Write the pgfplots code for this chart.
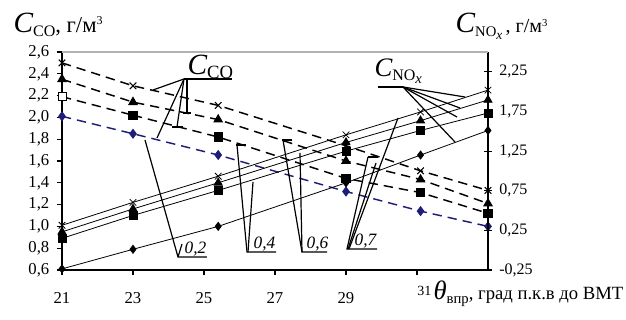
\documentclass[border=0pt]{standalone}
\usepackage{pgfplots}
\pgfplotsset{compat=1.18}
\usepackage{fontspec}
\setmainfont{Liberation Serif}
\definecolor{navy}{RGB}{30,30,120}
\newcommand{\fs}[1]{\fontsize{#1}{#1}\selectfont}
\begin{document}
\begin{tikzpicture}
\useasboundingbox (-46.5pt,-37.5pt) rectangle (423pt,202.5pt);
\pgfplotsset{
  co/.style={black, line width=1.1pt, dash pattern=on 7pt off 4.5pt, mark options={solid, line width=0.8pt}},
  nox/.style={black, line width=0.6pt, mark options={solid, line width=0.6pt}},
}
\begin{axis}[
  scale only axis, width=319.5pt, height=163.5pt,
  xmin=21, xmax=33, ymin=0.6, ymax=2.6,
  axis y line*=left, axis x line*=bottom,
  axis line style={line width=1pt},
  xtick={21,23,25,27,29,31}, xticklabels={21,23,25,27,29,},
  ytick={0.6,0.8,1.0,1.2,1.4,1.6,1.8,2.0,2.2,2.4,2.6},
  tick align=outside, major tick length=4pt,
  tick style={black, line width=0.8pt},
  /pgf/number format/assume math mode=true,
  yticklabel style={font=\fs{12.5}, xshift=-2pt, /pgf/number format/.cd, fixed, fixed zerofill, precision=1, use comma},
  xticklabel style={font=\fs{12.5}, yshift=-9pt},
  clip=false,
]
\addplot[co, mark=x, mark size=3.5pt] coordinates {(21,2.50)(23,2.29)(25.4,2.11)(29,1.74)(31.1,1.51)(33,1.33)};
\addplot[co, mark=triangle*, mark size=3.5pt] coordinates {(21,2.35)(23,2.14)(25.4,1.98)(29,1.60)(31.1,1.43)(33,1.21)};
\addplot[co, mark=square*, mark size=3pt] coordinates {(23,2.02)(25.4,1.82)(29,1.44)(31.1,1.31)(33,1.12)};
\addplot[co, mark=none] coordinates {(21,2.19)(23,2.02)};
\addplot[only marks, mark=square*, mark size=3pt, mark options={draw=black, fill=white, line width=0.6pt}] coordinates {(21,2.19)};
\addplot[co, navy, mark=diamond*, mark size=3.2pt] coordinates {(21,2.01)(23,1.85)(25.4,1.655)(29,1.32)(31.1,1.14)(33,1.00)};
\end{axis}
\begin{axis}[
  scale only axis, width=319.5pt, height=163.5pt,
  xmin=21, xmax=33, ymin=-0.25, ymax=2.5,
  axis y line*=right, axis x line=none,
  axis line style={line width=1pt},
  ytick={-0.25,0.25,0.75,1.25,1.75,2.25},
  tick align=center, major tick length=6pt,
  tick style={black, line width=0.8pt},
  /pgf/number format/assume math mode=true,
  yticklabel style={font=\fs{12}, xshift=2pt, /pgf/number format/.cd, fixed, fixed zerofill, precision=2, use comma},
  clip=false,
]
\addplot[nox, mark=x, mark size=3.5pt] coordinates {(21,0.314)(23,0.603)(25.4,0.933)(29,1.455)(31.1,1.744)(33,2.019)};
\addplot[nox, mark=triangle*, mark size=3.5pt] coordinates {(21,0.231)(23,0.520)(25.4,0.850)(29,1.359)(31.1,1.634)(33,1.895)};
\addplot[nox, mark=square*, mark size=3pt] coordinates {(21,0.149)(23,0.438)(25.4,0.754)(29,1.249)(31.1,1.510)(33,1.730)};
\addplot[nox, mark=diamond*, mark size=3pt] coordinates {(21,-0.236)(23,0.011)(25.4,0.300)(29,0.850)(31.1,1.200)(33,1.510)};
\end{axis}
\begin{scope}[shift={(-46.5pt,202.5pt)}, x=0.75pt, y=-0.75pt, line width=0.9pt]
  \draw[gray!60, line width=1.2pt] (62,52) -- (488,52);
  % C_CO leaders
  \draw (184,79) -- (232,79);
  \draw (184,79) -- (153,90);
  \draw (184,79) -- (157,138);
  \draw (184,79) -- (177,127); \draw (172,127) -- (183,127);
  \draw (187,79) -- (187,113); \draw (183,113) -- (191,113);
  % C_NOx leaders
  \draw (378,87) -- (403,87);
  \draw (403,87) -- (465,97);
  \draw (403,87) -- (460,108);
  \draw (403,87) -- (457,117);
  \draw (403,87) -- (455,142);
  % 0.2
  \draw (145,140) -- (178,257) -- (207,257);
  \draw (178,257) -- (182,244);
  % 0.4
  \draw (236,145) -- (246,145);
  \draw (237,145) -- (247,252) -- (276,252);
  \draw (253,182) -- (248,252);
  % 0.6
  \draw (282,140) -- (292,140);
  \draw (283,140) -- (302,252) -- (327,252);
  \draw (300,153) -- (302,252);
  % 0.7
  \draw (368,157) -- (378,157);
  \draw (368,157) -- (347,249) -- (377,249);
  \draw (376,163) -- (348,249);
  \draw (398,118) -- (349,249);
  \node[anchor=base west, inner sep=0] at (184,254) {\fs{13}\itshape 0,2};
  \node[anchor=base west, inner sep=0] at (253,249) {\fs{13}\itshape 0,4};
  \node[anchor=base west, inner sep=0] at (306,249) {\fs{13}\itshape 0,6};
  \node[anchor=base west, inner sep=0] at (354,246) {\fs{13}\itshape 0,7};
  % in-plot labels
  \node[anchor=base west, inner sep=0] at (187,75) {\fs{22}\itshape C\raisebox{-3pt}{\fs{14}\upshape CO}};
  \node[anchor=base west, inner sep=0] at (374,77) {\fs{20}\itshape C\raisebox{-3pt}{\fs{12}\upshape NO\raisebox{-2pt}{\fs{11}\itshape x}}};
  % axis titles
  \node[anchor=base west, inner sep=0] at (13,33) {\fs{22}\itshape C\raisebox{-3pt}{\fs{12}\upshape CO}\fs{17}\upshape, г/м\raisebox{6pt}{\fs{9}3}};
  \node[anchor=base west, inner sep=0] at (455,33) {\fs{22}\itshape C\raisebox{-3pt}{\fs{11}\upshape NO\raisebox{-2pt}{\fs{10}\itshape x}}\fs{15}\upshape\,, г/м\raisebox{5pt}{\fs{8}3}};
  \node[anchor=base east, inner sep=0] at (624,300) {\raisebox{3pt}{\fs{10.5}31}\,\fs{20}\itshape θ\raisebox{-3pt}{\fs{11}\upshape впр}\fs{14}\upshape, град п.к.в до ВМТ};
\end{scope}
\end{tikzpicture}
\end{document}
